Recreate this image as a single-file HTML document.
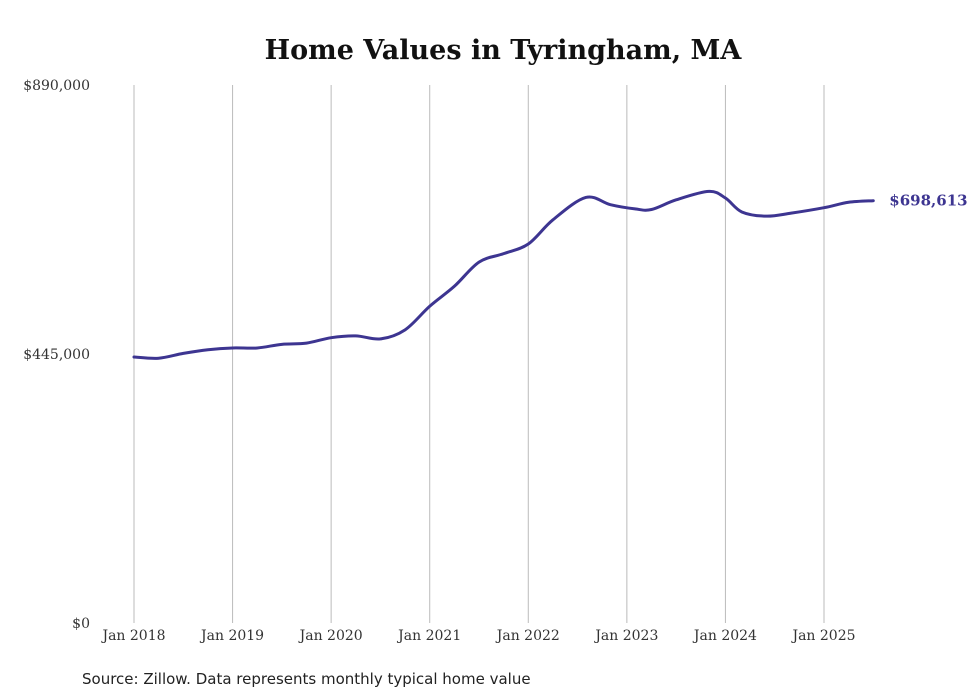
<!DOCTYPE html>
<html><head><meta charset="utf-8"><style>
body{margin:0;background:#fff;}
svg{display:block;}
</style></head><body>
<svg width="980" height="699" viewBox="0 0 980 699">
<text x="503" y="59" text-anchor="middle" font-family="'DejaVu Serif',serif" font-weight="bold" font-size="27" fill="#111">Home Values in Tyringham, MA</text>
<g id="grid"></g><g id="yaxis"></g><g id="xaxis"></g><g id="series"></g>
<text x="82" y="684" font-family="'DejaVu Sans',sans-serif" font-size="15" fill="#222">Source: Zillow. Data represents monthly typical home value</text>
</svg>
<script>
const monthIdx=[0,3,6,9,12,15,18,21,24,27,30,33,36,39,42,45,48,51,55,58,61,63,66,70,72,74,77,80,84,87,90];
const values=[440000,438000,446000,452000,455000,455000,461000,463000,472000,475000,470000,485000,524000,557000,597000,611000,627000,667000,704000,692000,685000,684000,700000,714000,703000,680000,673000,678000,687000,696000,698613];
const xTickLabels=["Jan 2018","Jan 2019","Jan 2020","Jan 2021","Jan 2022","Jan 2023","Jan 2024","Jan 2025"];
const yTickValues=[0,445000,890000];
const yTickLabels=["$0","$445,000","$890,000"];
const endLabel="$698,613";
const NS="http://www.w3.org/2000/svg";
const x=m=>134+m*(690/84);
const y=v=>623-v/890000*538;
function mk(t,a,p){const e=document.createElementNS(NS,t);for(const k in a)e.setAttribute(k,a[k]);p.appendChild(e);return e;}
const grid=document.getElementById('grid'),ya=document.getElementById('yaxis'),xa=document.getElementById('xaxis'),se=document.getElementById('series');
xTickLabels.forEach((l,i)=>{
  const g=mk('line',{x1:x(i*12),x2:x(i*12),y1:85,y2:623,stroke:'#bbb','stroke-width':1},grid);
  
  
  const t=mk('text',{x:x(i*12),y:640,'text-anchor':'middle','font-family':"'DejaVu Serif',serif",'font-size':14,fill:'#333'},xa);
  t.textContent=l;
  
  
});
yTickValues.forEach((v,i)=>{
  const t=mk('text',{x:90,y:y(v)+5,'text-anchor':'end','font-family':"'DejaVu Serif',serif",'font-size':14,fill:'#333'},ya);
  t.textContent=yTickLabels[i];
  
  
});
const pts=monthIdx.map((m,i)=>[x(m),y(values[i])]);
let d='M'+pts[0][0]+','+pts[0][1];
for(let i=0;i<pts.length-1;i++){
  const p0=pts[Math.max(0,i-1)],p1=pts[i],p2=pts[i+1],p3=pts[Math.min(pts.length-1,i+2)];
  const c1=[p1[0]+(p2[0]-p0[0])/6,p1[1]+(p2[1]-p0[1])/6],c2=[p2[0]-(p3[0]-p1[0])/6,p2[1]-(p3[1]-p1[1])/6];
  d+=' C'+c1+' '+c2+' '+p2;
}
const path=mk('path',{d:d,fill:'none',stroke:'#3d3591','stroke-width':3,'stroke-linecap':'round'},se);


const last=pts[pts.length-1];
const el=mk('text',{x:last[0]+16,y:last[1]+5,'font-family':"'DejaVu Serif',serif",'font-weight':'bold','font-size':15,fill:'#3d3591'},se);
el.textContent=endLabel;


</script>
</body></html>
